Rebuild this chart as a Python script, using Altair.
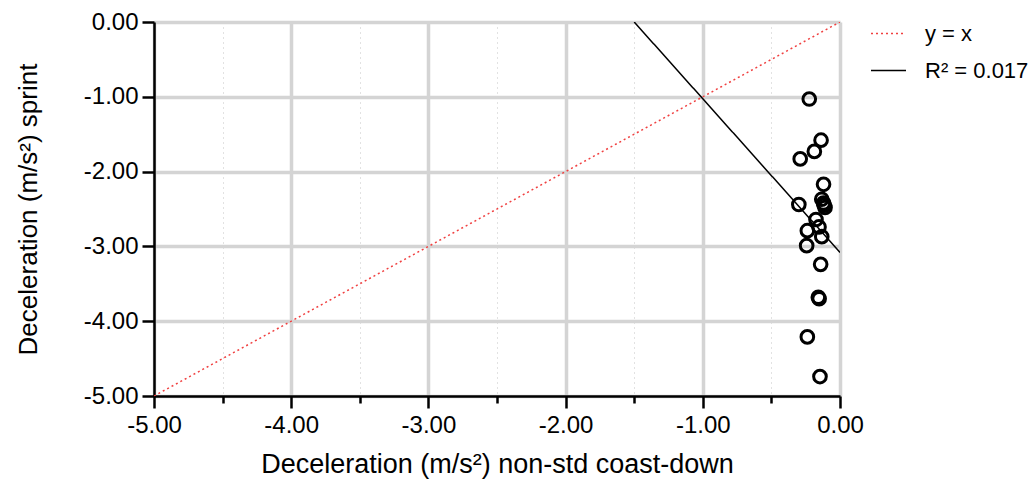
import altair as alt
import pandas as pd

# data
pt_x = [-0.224, -0.138, -0.187, -0.290, -0.120, -0.133, -0.120, -0.109, -0.115, -0.300,
        -0.175, -0.153, -0.238, -0.133, -0.243, -0.141, -0.158, -0.152, -0.238, -0.146]
pt_y = [-1.03, -1.58, -1.73, -1.83, -2.17, -2.37, -2.42, -2.48, -2.45, -2.44,
        -2.64, -2.74, -2.79, -2.87, -2.99, -3.24, -3.68, -3.70, -4.21, -4.74]

identity_x = [-5.0, 0.0]
identity_y = [-5.0, 0.0]
fit_x = [-1.50, 0.0]
fit_y = [0.0, -3.08]

series_names = ["y = x", "R\u00b2 = 0.017"]
tick_vals = [-5.0, -4.5, -4.0, -3.5, -3.0, -2.5, -2.0, -1.5, -1.0, -0.5, 0.0]

pts = pd.DataFrame({"x": pt_x, "y": pt_y})
lines = pd.DataFrame({
    "x": identity_x + fit_x,
    "y": identity_y + fit_y,
    "series": [series_names[0]] * 2 + [series_names[1]] * 2,
    "order": [0, 1, 0, 1],
})

FONT = "Liberation Sans"
is_major = "abs(datum.value - round(datum.value)) < 0.001"
label_expr = f"{is_major} ? replace(format(datum.value, '.2f'), '\u2212', '-') : ''"

def make_axis(title, orient, title_pad, label_pad, title_size):
    return alt.Axis(
        title=title,
        orient=orient,
        values=tick_vals,
        labelExpr=label_expr,
        labelFont=FONT,
        labelFontSize=24,
        labelColor="black",
        labelPadding=label_pad,
        titleFont=FONT,
        titleFontSize=title_size,
        titleFontWeight="normal",
        titleColor="black",
        titlePadding=title_pad,
        domainColor="black",
        domainWidth=2.5,
        tickColor="black",
        tickWidth=2.5,
        tickSize={"condition": {"test": is_major, "value": 12}, "value": 7},
        grid=True,
        gridColor={"condition": {"test": is_major, "value": "#d4d4d4"}, "value": "#c4c4c4"},
        gridWidth={"condition": {"test": is_major, "value": 3.5}, "value": 1},
        gridDash={"condition": {"test": is_major, "value": []}, "value": [1, 4]},
        labelOverlap=False,
        labelFlush=False,
    )

legend_cfg = dict(title=None, orient="none", legendX=716, legendY=-7,
                  symbolType="stroke", symbolSize=1225, symbolStrokeWidth=1.5,
                  labelFont=FONT, labelFontSize=22, labelColor="black",
                  labelOffset=18, rowPadding=7)

xscale = alt.Scale(domain=[-5, 0], nice=False, zero=False)
yscale = alt.Scale(domain=[-5, 0], nice=False, zero=False)

line_layer = alt.Chart(lines).mark_line(strokeWidth=1.5, clip=True).encode(
    x=alt.X("x:Q", scale=xscale,
            axis=make_axis("Deceleration (m/s\u00b2) non-std coast-down", "bottom", 14, 5, 27)),
    y=alt.Y("y:Q", scale=yscale,
            axis=make_axis("Deceleration (m/s\u00b2) sprint", "left", 42, 4, 26)),
    order="order:Q",
    color=alt.Color("series:N",
                    scale=alt.Scale(domain=series_names, range=["#f04040", "black"]),
                    legend=alt.Legend(**legend_cfg)),
    strokeDash=alt.StrokeDash("series:N",
                              scale=alt.Scale(domain=series_names, range=[[2, 3], [1, 0]]),
                              legend=alt.Legend(**legend_cfg)),
)

point_layer = alt.Chart(pts).mark_point(
    shape="circle", filled=False, color="black", strokeWidth=3, size=160, opacity=1
).encode(
    x=alt.X("x:Q", scale=xscale),
    y=alt.Y("y:Q", scale=yscale),
)

chart = alt.layer(line_layer, point_layer).properties(
    width=686,
    height=374,
    autosize=alt.AutoSizeParams(type="none"),
    padding={"left": 154, "top": 22, "right": 190, "bottom": 89},
).configure_view(stroke=None).configure(background="white")

chart.save("out.html", embed_options={"renderer": "svg", "actions": False})
